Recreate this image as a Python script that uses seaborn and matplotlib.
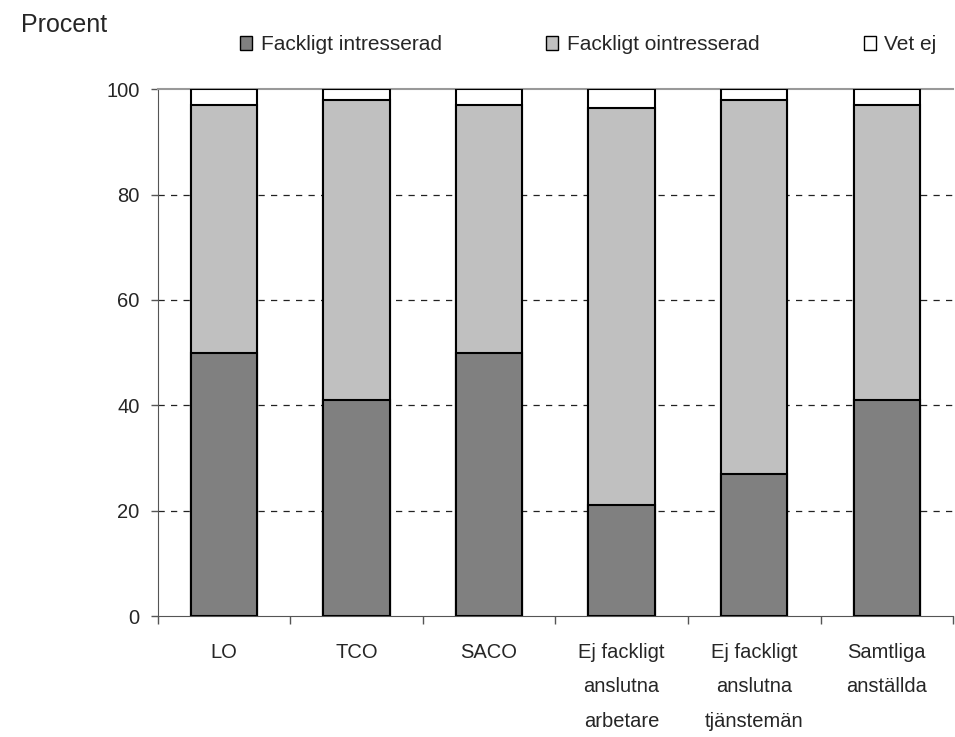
import numpy as np
import pandas as pd
import matplotlib
matplotlib.use('Agg')
import matplotlib.pyplot as plt
from matplotlib.patches import Patch
from matplotlib.ticker import FixedLocator
import seaborn as sns

# data (percent)
categories = ['LO', 'TCO', 'SACO', 'Ej fackligt\nanslutna\narbetare',
              'Ej fackligt\nanslutna\ntjänstemän', 'Samtliga\nanställda']
intresserad = [50, 41, 50, 21, 27, 41]
ointresserad = [47, 57, 47, 75.5, 71, 56]
vet_ej = [3, 2, 3, 3.5, 2, 3]
series_names = ['Fackligt intresserad', 'Fackligt ointresserad', 'Vet ej']
colors = ['#808080', '#c0c0c0', '#ffffff']

df = pd.DataFrame({'grupp': categories,
                   'intresserad': intresserad,
                   'ointresserad': ointresserad,
                   'vet_ej': vet_ej})
df['lvl1'] = df['intresserad']
df['lvl2'] = df['lvl1'] + df['ointresserad']
df['lvl3'] = df['lvl2'] + df['vet_ej']

sns.set_style('white')
plt.rcParams['font.family'] = ['Liberation Sans', 'DejaVu Sans']

fig = plt.figure(figsize=(9.55, 7.37), dpi=100)
ax = fig.add_axes([0.165, 0.164, 0.833, 0.715])

# stacked bars drawn as overlapping cumulative totals
for col, c in zip(['lvl3', 'lvl2', 'lvl1'], colors[::-1]):
    sns.barplot(data=df, x='grupp', y=col, color=c, edgecolor='black',
                linewidth=1.5, width=0.5, saturation=1, ax=ax, zorder=3)

ax.set_ylim(0, 100)
ax.set_xlim(-0.5, len(categories) - 0.5)
ax.set_yticks([0, 20, 40, 60, 80, 100])
for y in [20, 40, 60, 80]:
    ax.axhline(y, color='#222222', linestyle=(0, (5, 5)), linewidth=0.9, zorder=1)

ax.set_xlabel('')
ax.set_ylabel('')
ax.spines['right'].set_visible(False)
ax.spines['top'].set_color('#999999')
ax.spines['top'].set_linewidth(1.5)
ax.spines['left'].set_color('#555555')
ax.spines['bottom'].set_color('#555555')

ax.tick_params(axis='y', direction='out', length=5, width=1, color='#555555',
               labelsize=14.5, pad=8, left=True)
ax.tick_params(axis='x', which='major', length=0, labelsize=14.5, pad=19)
ax.xaxis.set_minor_locator(FixedLocator(np.arange(-0.5, len(categories), 1.0)))
ax.tick_params(axis='x', which='minor', direction='out', length=6, width=1,
               color='#555555', bottom=True)
for lbl in ax.get_xticklabels():
    lbl.set_linespacing(2.05)

fig.text(0.022, 0.966, 'Procent', fontsize=18, va='center', ha='left')

handles = [Patch(facecolor=c, edgecolor='black', linewidth=1) for c in colors]
fig.legend(handles, series_names, loc='center', bbox_to_anchor=(0.616, 0.939),
           ncol=3, frameon=False, fontsize=15, handlelength=0.6, handleheight=0.6,
           handletextpad=0.4, columnspacing=5.0)

fig.savefig('out.png', dpi=100)
